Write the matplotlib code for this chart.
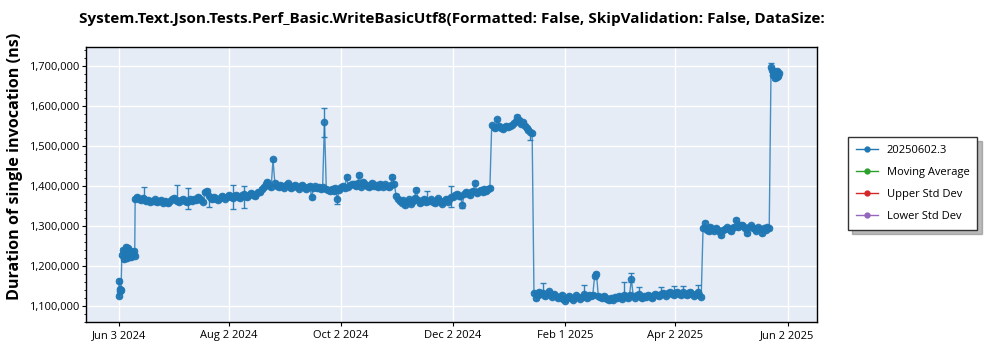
import matplotlib
matplotlib.use("Agg")
import matplotlib.pyplot as plt
from matplotlib.ticker import FuncFormatter, AutoMinorLocator
from matplotlib.lines import Line2D
import pandas as pd
import numpy as np

# ---------------- data (values in thousands of ns) ----------------
seg_a_start, seg_a_freq = "2024-06-03 00:00", "8h"
seg_a_vals = [1125, 1162, 1141, 1136, 1139]

seg_b_start, seg_b_freq = "2024-06-04 18:00", "12h"
seg_b_vals = [1228, 1240, 1216, 1237, 1247, 1231, 1219, 1244, 1226, 1236,
              1221, 1233, 1229, 1238, 1225]

seg_c1_start, seg_c1_freq = "2024-06-12", "1D"
seg_c1_vals = [1368, 1372, 1366, 1364, 1370, 1367, 1362, 1365, 1360, 1363,
               1361, 1366, 1359, 1362, 1364, 1358, 1361, 1360, 1357, 1363,
               1366, 1370, 1365, 1362, 1360, 1364, 1367, 1361, 1359, 1363,
               1366, 1362, 1368, 1364, 1372, 1369, 1365, 1360, 1384, 1388,
               1374, 1369, 1366, 1372, 1368, 1365, 1370, 1375, 1371, 1368,
               1373, 1377, 1372, 1369, 1374, 1378, 1373, 1370, 1376, 1380,
               1375, 1372, 1378, 1382, 1377, 1374, 1380, 1384]

seg_c2_start, seg_c2_freq = "2024-08-19", "1D"
seg_c2_vals = [1385, 1392, 1398, 1405, 1410, 1402, 1396, 1466, 1408, 1400,
               1397, 1403, 1399, 1395, 1401, 1406, 1398, 1394, 1400, 1403,
               1397, 1393, 1399, 1402, 1396, 1392, 1398, 1400, 1371, 1395,
               1399, 1394, 1397, 1392, 1396, 1559, 1393]

seg_c3_start, seg_c3_freq = "2024-09-25", "1D"
seg_c3_vals = [1390, 1388, 1392, 1386, 1395, 1366, 1390, 1396, 1400, 1394,
               1422, 1398, 1402, 1404, 1404, 1399, 1407, 1427, 1398, 1410,
               1404, 1400, 1396, 1403, 1407, 1399, 1402, 1397, 1405, 1401,
               1398, 1404, 1400, 1396, 1402, 1423, 1405]

seg_c4_start, seg_c4_freq = "2024-11-01", "1D"
seg_c4_vals = [1375, 1368, 1362, 1358, 1364, 1352, 1360, 1366, 1355, 1362,
               1370, 1390, 1364, 1356, 1361, 1368, 1359, 1362, 1363, 1366,
               1360, 1357, 1364, 1369, 1361, 1355, 1363, 1368, 1360, 1366,
               1371]

seg_c5_start, seg_c5_freq = "2024-12-02", "1D"
seg_c5_vals = [1372, 1378, 1380, 1375, 1375, 1352, 1379, 1385, 1381, 1376,
               1384, 1388, 1407, 1382, 1386, 1390, 1384, 1392, 1387, 1391,
               1394]

seg_d_start, seg_d_freq = "2024-12-23", "1D"
seg_d_vals = [1552, 1548, 1545, 1567, 1550, 1546, 1543, 1548, 1551, 1547,
              1549, 1553, 1558, 1562, 1573, 1565, 1556, 1559, 1551, 1544,
              1540, 1536, 1532]

seg_e_start, seg_e_freq = "2025-01-15", "1D"
seg_e_vals = [1131, 1119, 1126, 1135, 1128, 1132, 1124, 1129, 1136, 1127,
              1122, 1130, 1125, 1118, 1121, 1127, 1116, 1112, 1119, 1124,
              1120, 1115, 1118, 1126, 1122, 1117, 1121, 1128, 1124, 1119,
              1126, 1123, 1127, 1174, 1179, 1125, 1121, 1118, 1124, 1120,
              1116, 1113, 1119, 1115, 1122, 1118, 1124, 1121, 1117, 1126,
              1123, 1119, 1127, 1167, 1124, 1120, 1126, 1128, 1122, 1118,
              1124, 1121, 1127, 1123, 1119, 1125, 1130, 1127, 1124, 1129,
              1132, 1128, 1125, 1131, 1134, 1129, 1126, 1132, 1135, 1130,
              1127, 1133, 1129, 1126, 1131, 1134, 1128, 1125, 1130, 1133,
              1127, 1122]

seg_f_start, seg_f_freq = "2025-04-17", "1D"
seg_f_vals = [1294, 1306, 1290, 1286, 1297, 1292, 1288, 1295, 1290, 1284,
              1277, 1289, 1293, 1296, 1291, 1287, 1294, 1298, 1315, 1296,
              1303, 1302, 1299, 1294, 1281, 1297, 1301, 1295, 1293, 1288,
              1296, 1292, 1282, 1294, 1290, 1297, 1294]

seg_g_start, seg_g_freq = "2025-05-24", "12h"
seg_g_vals = [1698, 1690, 1677, 1685, 1669, 1680, 1673, 1688, 1676, 1682]

# notable error bars: date, lower bound, upper bound (thousands of ns)
err_dates = ["2024-06-03 08:00", "2024-06-17", "2024-07-05", "2024-07-11",
             "2024-07-22", "2024-08-04", "2024-08-10", "2024-09-23",
             "2024-09-30", "2024-11-12", "2024-11-18", "2024-12-01",
             "2024-12-07", "2025-01-13", "2025-01-20", "2025-02-11",
             "2025-03-05", "2025-03-09", "2025-03-13", "2025-03-25",
             "2025-04-01", "2025-04-06", "2025-04-14", "2025-04-18",
             "2025-05-24 00:00"]
err_lo = [1156, 1364, 1362, 1342, 1348, 1342, 1345, 1523,
          1354, 1386, 1358, 1348, 1345, 1515, 1127, 1118,
          1120, 1160, 1119, 1122, 1126, 1124, 1125, 1300,
          1692]
err_hi = [1166, 1397, 1402, 1395, 1373, 1402, 1400, 1594,
          1370, 1394, 1388, 1400, 1356, 1540, 1157, 1152,
          1160, 1181, 1147, 1147, 1150, 1150, 1151, 1313,
          1707]
default_err = 4  # thousands

legend_labels = ["20250602.3", "Moving Average", "Upper Std Dev", "Lower Std Dev"]
legend_colors = ["#1f77b4", "#2ca02c", "#d62728", "#9467bd"]

x_tick_dates = ["2024-06-03", "2024-08-02", "2024-10-02", "2024-12-02",
                "2025-02-01", "2025-04-02", "2025-06-02"]
y_ticks = [1100000, 1200000, 1300000, 1400000, 1500000, 1600000, 1700000]

title = ("System.Text.Json.Tests.Perf_Basic.WriteBasicUtf8(Formatted: False, "
         "SkipValidation: False, DataSize:")
ylabel = "Duration of single invocation (ns)"

# ---------------- build series ----------------
segs = [(seg_a_start, seg_a_freq, seg_a_vals), (seg_b_start, seg_b_freq, seg_b_vals),
        (seg_c1_start, seg_c1_freq, seg_c1_vals), (seg_c2_start, seg_c2_freq, seg_c2_vals),
        (seg_c3_start, seg_c3_freq, seg_c3_vals), (seg_c4_start, seg_c4_freq, seg_c4_vals),
        (seg_c5_start, seg_c5_freq, seg_c5_vals), (seg_d_start, seg_d_freq, seg_d_vals),
        (seg_e_start, seg_e_freq, seg_e_vals), (seg_f_start, seg_f_freq, seg_f_vals),
        (seg_g_start, seg_g_freq, seg_g_vals)]
frames = []
for start, freq, vals in segs:
    idx = pd.date_range(start, periods=len(vals), freq=freq)
    frames.append(pd.DataFrame({"date": idx, "val": np.array(vals, float) * 1000}))
df = pd.concat(frames, ignore_index=True)
df["lo"] = default_err * 1000.0
df["hi"] = default_err * 1000.0
for d, lo, hi in zip(err_dates, err_lo, err_hi):
    m = df["date"] == pd.Timestamp(d)
    if m.any():
        v = df.loc[m, "val"].values[0]
        df.loc[m, "lo"] = max(v - lo * 1000, 0)
        df.loc[m, "hi"] = max(hi * 1000 - v, 0)

# ---------------- figure ----------------
plt.rcParams["font.family"] = ["Open Sans", "DejaVu Sans"]
fig = plt.figure(figsize=(10, 3.5), dpi=100)
ax = fig.add_axes([0.086, 0.08, 0.731, 0.786])
ax.set_facecolor("#e5ecf6")
blue = "#1f77b4"
ax.plot(df["date"], df["val"], "-", color=blue, lw=1.0, alpha=0.8, zorder=2)
ax.errorbar(df["date"], df["val"], yerr=[df["lo"], df["hi"]], fmt="o", ms=4.5,
            color=blue, ecolor=blue, elinewidth=1, capsize=2.5, capthick=1,
            alpha=0.9, zorder=3)

ax.set_xlim(pd.Timestamp("2024-05-16 06:00"), pd.Timestamp("2025-06-18"))
ax.set_ylim(1059000, 1748000)
xt = [pd.Timestamp(d) for d in x_tick_dates]
ax.set_xticks(xt)
ax.set_xticklabels([f"{d:%b} {d.day} {d.year}" for d in xt], fontsize=8)
ax.set_yticks(y_ticks)
ax.yaxis.set_major_formatter(FuncFormatter(lambda v, p: f"{int(v):,}"))
ax.yaxis.set_minor_locator(AutoMinorLocator(5))
ax.tick_params(axis="y", labelsize=8, length=3, width=0.8, pad=2)
ax.tick_params(axis="y", which="minor", length=1.5, width=0.6)
ax.tick_params(axis="x", length=3, width=0.8, pad=3)
ax.grid(True, which="major", color="white", lw=1.0)
ax.set_axisbelow(True)
for s in ax.spines.values():
    s.set_color("black")
    s.set_linewidth(1.0)

ax.set_ylabel(ylabel, fontsize=11.6, fontweight="bold")
ax.yaxis.set_label_coords(-0.086, 0.565)
fig.text(0.4515, 0.945, title, ha="center", va="center", fontsize=11,
         fontweight="bold")

handles = [Line2D([], [], color=c, marker="o", ms=3.5, lw=1) for c in legend_colors]
leg = fig.legend(handles, legend_labels, loc="upper left",
                 bbox_to_anchor=(0.848, 1 - 137 / 350), fontsize=8,
                 frameon=True, fancybox=False, borderaxespad=0,
                 shadow={"ox": 3, "oy": -3, "color": "#777777"},
                 handlelength=2, borderpad=0.7, labelspacing=1.0)
leg.get_frame().set_edgecolor("#333333")
leg.get_frame().set_linewidth(1.0)

fig.savefig("out.png", dpi=100)
